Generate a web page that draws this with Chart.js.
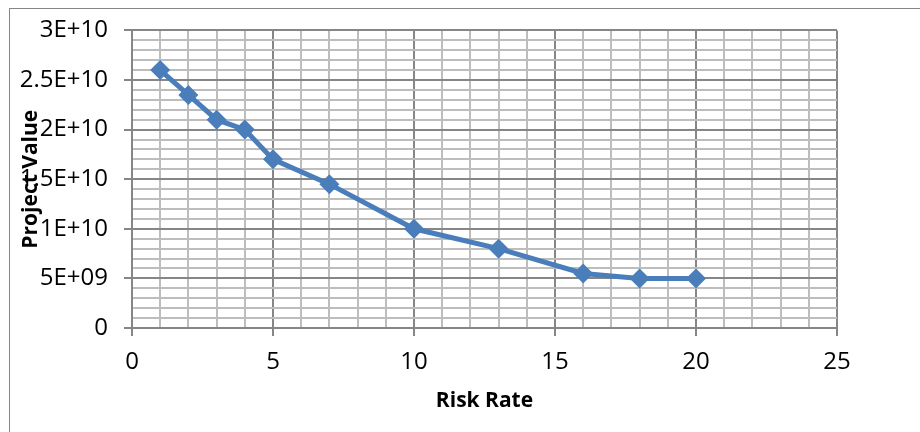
<!DOCTYPE html>
<html lang="en">
<head>
    <meta charset="UTF-8">
    <title>Project Value vs Risk Rate</title>
    <script src="https://cdn.jsdelivr.net/npm/chart.js"></script>
    <style>
        body {
            margin: 0;
            padding: 0;
            background-color: white;
            overflow: hidden;
        }
        .frame {
            position: absolute;
            left: 9px;
            top: 8px;
            width: 1000px;
            height: 600px;
            border: 1px solid #868686; /* outer chart border, runs off the page */
        }
        .chart-container {
            position: absolute;
            left: 0;
            top: 0;
            width: 920px;
            height: 432px;
        }
    </style>
</head>
<body>
    <div class="frame"></div>
    <div class="chart-container">
        <canvas id="riskChart"></canvas>
    </div>

    <script>
        // Data
        const riskRates = [1, 2, 3, 4, 5, 7, 10, 13, 16, 18, 20];
        const projectValues = [2.6e10, 2.35e10, 2.1e10, 2.0e10, 1.7e10, 1.45e10, 1.0e10, 8.0e9, 5.5e9, 5.0e9, 5.0e9];

        const yTickLabels = ['0', '5E+09', '1E+10', '1.5E+10', '2E+10', '2.5E+10', '3E+10'];
        const xTickLabels = ['0', '5', '10', '15', '20', '25'];

        const points = riskRates.map((x, i) => ({ x: x, y: projectValues[i] }));

        const majorColor = '#868686';
        const minorColor = '#bdbdbd';
        const labelFont = { family: "'Open Sans', 'Liberation Sans', sans-serif", size: 24 };
        const titleFont = { family: "'Open Sans', 'Liberation Sans', sans-serif", size: 21, weight: 'bold' };

        const isMajorY = (c) => c.tick && Math.round(c.tick.value / 1e9) % 5 === 0;
        const isMajorX = (c) => c.tick && c.tick.value % 5 === 0;

        const ctx = document.getElementById('riskChart').getContext('2d');

        new Chart(ctx, {
            type: 'scatter',
            data: {
                datasets: [{
                    label: 'Project Value',
                    data: points,
                    showLine: true,
                    borderColor: '#4a7ebb',
                    backgroundColor: '#4a7ebb',
                    borderWidth: 5,
                    pointStyle: 'rectRot',
                    pointRadius: 10,
                    pointHoverRadius: 10,
                    pointBorderWidth: 0,
                    tension: 0
                }]
            },
            options: {
                responsive: true,
                maintainAspectRatio: false,
                animation: false,
                layout: {
                    padding: { left: 18, top: 28, right: 83, bottom: 0 }
                },
                plugins: {
                    legend: { display: false },
                    tooltip: { enabled: false }
                },
                scales: {
                    x: {
                        type: 'linear',
                        min: 0,
                        max: 25,
                        afterFit: (scale) => { scale.height = 104; },
                        ticks: {
                            stepSize: 1,
                            color: '#000',
                            font: labelFont,
                            padding: 12,
                            maxRotation: 0,
                            autoSkip: false,
                            callback: (v) => (v % 5 === 0 ? xTickLabels[v / 5] : '')
                        },
                        grid: {
                            color: (c) => (isMajorX(c) ? majorColor : minorColor),
                            lineWidth: 2,
                            tickColor: (c) => (isMajorX(c) ? majorColor : 'rgba(0,0,0,0)'),
                            tickLength: 8
                        },
                        border: { color: majorColor, width: 2 },
                        title: {
                            display: true,
                            text: 'Risk Rate',
                            color: '#000',
                            font: titleFont,
                            padding: { top: 0, bottom: 18 }
                        }
                    },
                    y: {
                        type: 'linear',
                        min: 0,
                        max: 3e10,
                        afterFit: (scale) => { scale.width = 114; },
                        ticks: {
                            stepSize: 1e9,
                            color: '#000',
                            font: labelFont,
                            padding: 16,
                            autoSkip: false,
                            callback: (v) => {
                                const i = Math.round(v / 5e9);
                                return Math.abs(v - i * 5e9) < 1 ? yTickLabels[i] : '';
                            }
                        },
                        grid: {
                            color: (c) => (isMajorY(c) ? majorColor : minorColor),
                            lineWidth: 2,
                            tickColor: (c) => (isMajorY(c) ? majorColor : 'rgba(0,0,0,0)'),
                            tickLength: 8
                        },
                        border: { color: majorColor, width: 2 },
                        title: {
                            display: true,
                            text: 'Project Value',
                            color: '#000',
                            font: titleFont,
                            padding: { top: 0, bottom: 0 }
                        }
                    }
                }
            }
        });
    </script>
</body>
</html>
